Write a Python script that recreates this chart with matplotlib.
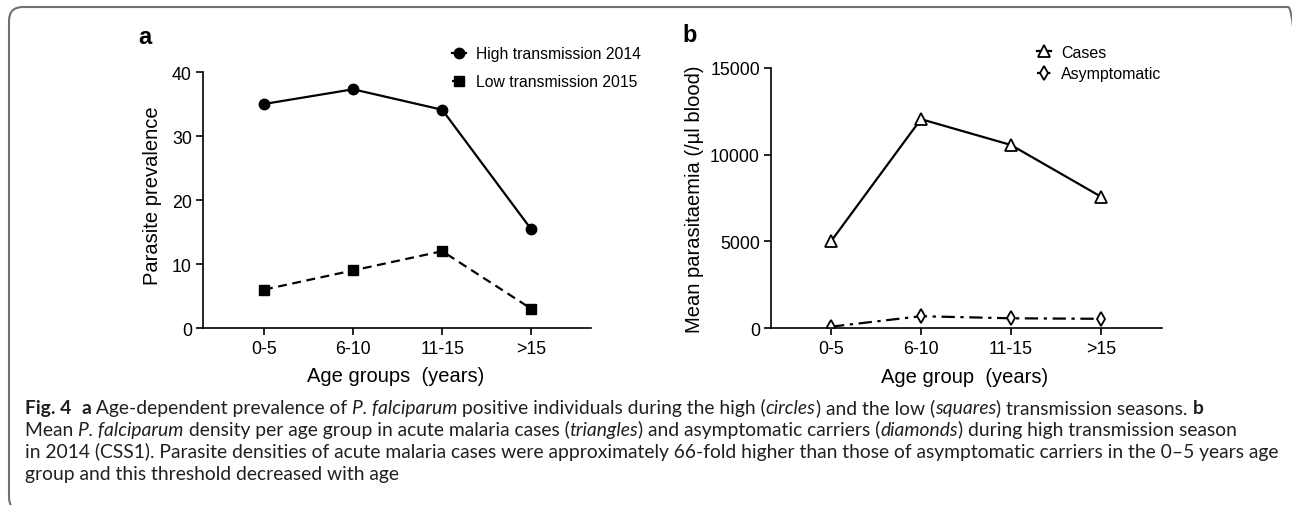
import matplotlib
matplotlib.use("Agg")
import matplotlib.pyplot as plt
from matplotlib import font_manager as fm
from matplotlib.patches import FancyBboxPatch
from matplotlib.transforms import IdentityTransform

# Data
age_groups = ["0-5", "6-10", "11-15", ">15"]
high_2014 = [35.0, 37.3, 34.1, 15.4]
low_2015 = [6.0, 9.0, 12.0, 3.0]
cases = [5000, 12050, 10560, 7580]
asymptomatic = [76, 680, 560, 530]

caption_lines = [
    [("Fig. 4", "b"), ("  ", "n"), ("a", "b"), (" Age-dependent prevalence of ", "n"),
     ("P. falciparum", "i"), (" positive individuals during the high (", "n"),
     ("circles", "i"), (") and the low (", "n"), ("squares", "i"),
     (") transmission seasons. ", "n"), ("b", "b")],
    [("Mean ", "n"), ("P. falciparum", "i"),
     (" density per age group in acute malaria cases (", "n"), ("triangles", "i"),
     (") and asymptomatic carriers (", "n"), ("diamonds", "i"),
     (") during high transmission season", "n")],
    [("in 2014 (CSS1). Parasite densities of acute malaria cases were approximately "
      "66-fold higher than those of asymptomatic carriers in the 0\u20135 years age", "n")],
    [("group and this threshold decreased with age", "n")],
]

plt.rcParams["font.family"] = ["Liberation Sans", "DejaVu Sans"]

W, H = 1292, 506
fig = plt.figure(figsize=(W / 100, H / 100), dpi=100)


def px_axes(l, t, r, b):
    return fig.add_axes([l / W, 1 - b / H, (r - l) / W, (b - t) / H])


def style_axes(ax):
    for s in ["top", "right"]:
        ax.spines[s].set_visible(False)
    for s in ["left", "bottom"]:
        ax.spines[s].set_linewidth(1.2)
    ax.tick_params(direction="out", length=5, width=1.2, labelsize=12.8, pad=4)
    ax.tick_params(axis="y", pad=3)


x = list(range(len(age_groups)))

# Panel a
ax1 = px_axes(203, 73, 591, 329)
ax1.plot(x, high_2014, "-o", color="k", lw=1.6, ms=7.5, label="High transmission 2014")
ax1.plot(x, low_2015, "--s", color="k", lw=1.6, ms=7, dashes=(4, 2.5),
         label="Low transmission 2015")
ax1.set_xticks(x, age_groups)
ax1.set_xlim(-0.685, 3.67)
ax1.set_ylim(0, 40)
ax1.set_yticks([0, 10, 20, 30, 40])
style_axes(ax1)
ax1.set_ylabel("Parasite prevalence", fontsize=14.5)
ax1.set_xlabel("Age groups  (years)", fontsize=14.5)
ax1.yaxis.set_label_coords(-0.106, 0.52)
ax1.xaxis.set_label_coords(0.497, -0.15)
ax1.legend(loc="upper left", bbox_to_anchor=(452 / W, 1 - 47 / H),
           bbox_transform=fig.transFigure, frameon=False, fontsize=11.3,
           handlelength=0.9, handletextpad=0.6, labelspacing=0.85,
           borderpad=0, borderaxespad=0)
fig.text(145 / W, 1 - 37 / H, "a", fontsize=17, fontweight="bold", ha="center", va="center")

# Panel b
ax2 = px_axes(771, 69, 1162, 329)
ax2.plot(x, cases, "-^", color="k", lw=1.6, ms=8, mfc="white", mew=1.3, label="Cases")
ax2.plot(x, asymptomatic, "-.d", color="k", lw=1.6, ms=7.5, mfc="white", mew=1.3,
         dashes=(6, 2.5, 1.5, 2.5), label="Asymptomatic")
ax2.set_xticks(x, age_groups)
ax2.set_xlim(-0.667, 3.68)
ax2.set_ylim(0, 15000)
ax2.set_yticks([0, 5000, 10000, 15000])
style_axes(ax2)
ax2.set_ylabel("Mean parasitaemia (/\u00b5l blood)", fontsize=14.5)
ax2.set_xlabel("Age group  (years)", fontsize=14.5)
ax2.yaxis.set_label_coords(-0.172, 0.5)
ax2.xaxis.set_label_coords(0.494, -0.15)
ax2.legend(loc="upper left", bbox_to_anchor=(1037 / W, 1 - 46 / H),
           bbox_transform=fig.transFigure, frameon=False, fontsize=11.5,
           handlelength=0.9, handletextpad=0.6, labelspacing=0.4,
           borderpad=0, borderaxespad=0)
fig.text(690 / W, 1 - 35 / H, "b", fontsize=17, fontweight="bold", ha="center", va="center")

# Caption
names = {f.name for f in fm.fontManager.ttflist}
cap_family = ["Liberation Sans Narrow"] if "Liberation Sans Narrow" in names else ["Lato"]
cap_family = cap_family + ["DejaVu Sans"]
cap_color = "#231f20"
renderer = fig.canvas.get_renderer()


def seg_props(kind, fs):
    p = dict(fontsize=fs, family=cap_family, color=cap_color)
    if kind == "b":
        p["fontweight"] = "bold"
    elif kind == "i":
        p["fontstyle"] = "italic"
    return p


def text_width(s, props):
    t = fig.text(0, 0, s + "|", **props)
    w = t.get_window_extent(renderer).width
    t.remove()
    t = fig.text(0, 0, "|", **props)
    w -= t.get_window_extent(renderer).width
    t.remove()
    return w


base_fs = 12
w3 = sum(text_width(s, seg_props(k, base_fs)) for s, k in caption_lines[2])
cap_fs = base_fs * (1278 - 25) / w3

baselines = [414, 436, 458, 480]
for line, yb in zip(caption_lines, baselines):
    xp = 25
    for s, k in line:
        props = seg_props(k, cap_fs)
        fig.text(xp / W, 1 - yb / H, s, va="baseline", ha="left", **props)
        xp += text_width(s, props)

# Rounded frame
frame = FancyBboxPatch((9, -6), 1293, 504, boxstyle="round,pad=0,rounding_size=14",
                       transform=IdentityTransform(), fill=False, ec="#707070", lw=1.5)
fig.add_artist(frame)

fig.savefig("out.png", dpi=100)
